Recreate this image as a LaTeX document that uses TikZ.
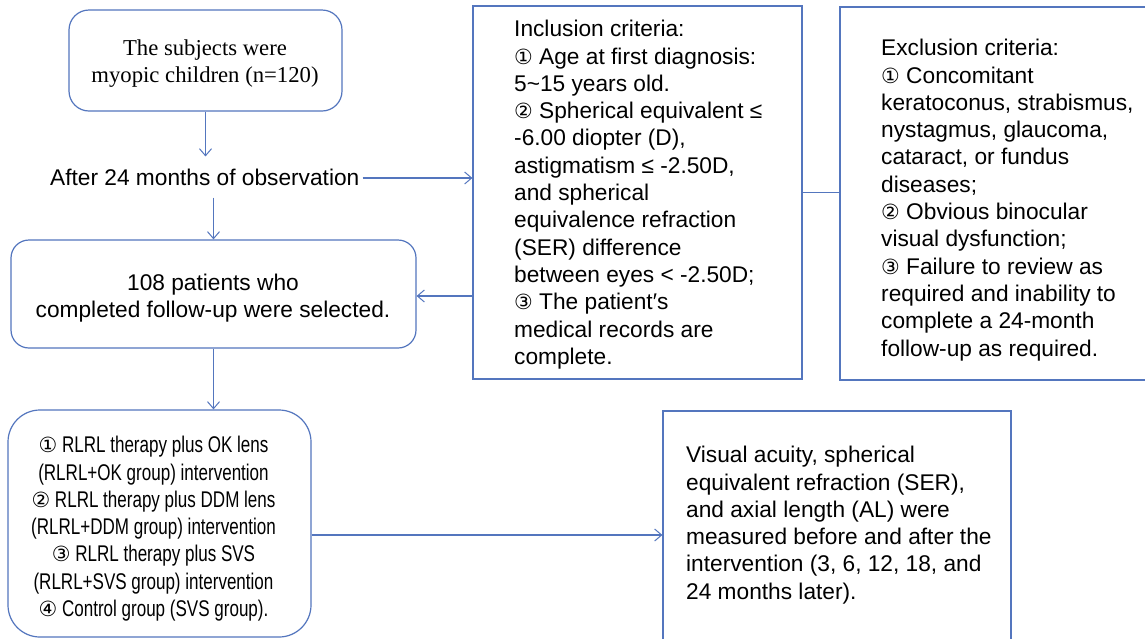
\documentclass[tikz,border=0pt]{standalone}
\usepackage{fontspec}
\setmainfont{Liberation Sans}
\newfontfamily\serifbox{Liberation Serif}
\newfontfamily\narrowsans[FakeStretch=0.75]{Liberation Sans}
\newfontfamily\symfont[Scale=0.92]{DejaVu Sans}
\usetikzlibrary{arrows.meta,calc}
\definecolor{lineblue}{RGB}{84,118,190}
\newcommand{\cnum}[1]{{\symfont #1}}
\begin{document}
\begin{tikzpicture}[x=1pt,y=-1pt,
  conn/.style={draw=lineblue, line width=1.1pt},
  arr/.style={conn, -{Straight Barb[length=7pt,width=12pt,line width=1pt]}},
  rbox/.style={draw=lineblue, line width=1.2pt, rounded corners=#1, inner sep=0pt},
  sbox/.style={draw=lineblue, line width=1.2pt, inner sep=0pt},
  txt/.style={inner sep=0pt, font=\fontsize{22.7}{27.3}\selectfont},
  ltxt/.style={txt, anchor=north west, align=left},
]
\path[use as bounding box, clip] (0,0) rectangle (1145,638);
\fill[white] (0,0) rectangle (1145,638);

% boxes
\node[rbox=20, minimum width=273pt, minimum height=101pt] (box1) at (205.5,60.5) {};
\node[rbox=18, minimum width=405pt, minimum height=108pt] (box2) at (213.5,294) {};
\node[rbox=32, minimum width=303pt, minimum height=227pt] (box3) at (159.5,523.5) {};
\node[sbox, minimum width=329pt, minimum height=373pt] (incl) at (637.5,192.5) {};
\node[sbox, minimum width=320pt, minimum height=373pt] (excl) at (1000,193.5) {};
\node[sbox, minimum width=348pt, minimum height=239pt] (vis) at (837,530.5) {};

% texts
\node[txt, align=center, font=\serifbox\fontsize{22.7}{27}\selectfont] (t1) at (205,64)
  {The subjects were\\myopic children (n=120)};
\node[txt, anchor=west, inner ysep=12pt] (after) at (50,177) {After 24 months of observation};
\node[txt, align=center] (t2) at (213,298) {108 patients who\\completed follow-up were selected.};
\node[ltxt] (tincl) at (514,17.4) {\strut Inclusion criteria:\\
\cnum{①} Age at first diagnosis:\\
5\textasciitilde 15 years old.\\
\cnum{②} Spherical equivalent ≤\\
-6.00 diopter (D),\\
astigmatism ≤ -2.50D,\\
and spherical\\
equivalence refraction\\
(SER) difference\\
between eyes < -2.50D;\\
\cnum{③} The patient′s\\
medical records are\\
complete.};
\node[ltxt] (texcl) at (881,36.4) {\strut Exclusion criteria:\\
\cnum{①} Concomitant\\
keratoconus, strabismus,\\
nystagmus, glaucoma,\\
cataract, or fundus\\
diseases;\\
\cnum{②} Obvious binocular\\
visual dysfunction;\\
\cnum{③} Failure to review as\\
required and inability to\\
complete a 24-month\\
follow-up as required.};
\node[txt, anchor=north, align=center, font=\narrowsans\fontsize{22.7}{27.3}\selectfont] (t3) at (153.5,433.4) {\strut\cnum{①} RLRL therapy plus OK lens\\
(RLRL+OK group) intervention\\
\cnum{②} RLRL therapy plus DDM lens\\
(RLRL+DDM group) intervention\\
\cnum{③} RLRL therapy plus SVS\\
(RLRL+SVS group) intervention\\
\cnum{④} Control group (SVS group).};
\node[ltxt] (tvis) at (686,443.4) {\strut Visual acuity, spherical\\
equivalent refraction (SER),\\
and axial length (AL) were\\
measured before and after the\\
intervention (3, 6, 12, 18, and\\
24 months later).};

% connectors
\coordinate (a1end) at (box1.south |- after.north);
\draw[arr] (box1.south) -- (a1end);
\draw[arr] (after.south -| box2.north) -- (box2.north);
\draw[arr] ($(after.east)+(3,1)$) -- (incl.west |- 0,178);
\draw[arr] (incl.west |- 0,296) -- (box2.east |- 0,296);
\draw[conn] (incl.east) -- (excl.west |- incl.east);
\draw[arr] ($(box2.south)+(0,0)$) -- (box3.north -| box2.south);
\draw[arr] (box3.east |- 0,535) -- (vis.west |- 0,535);
\end{tikzpicture}
\end{document}
